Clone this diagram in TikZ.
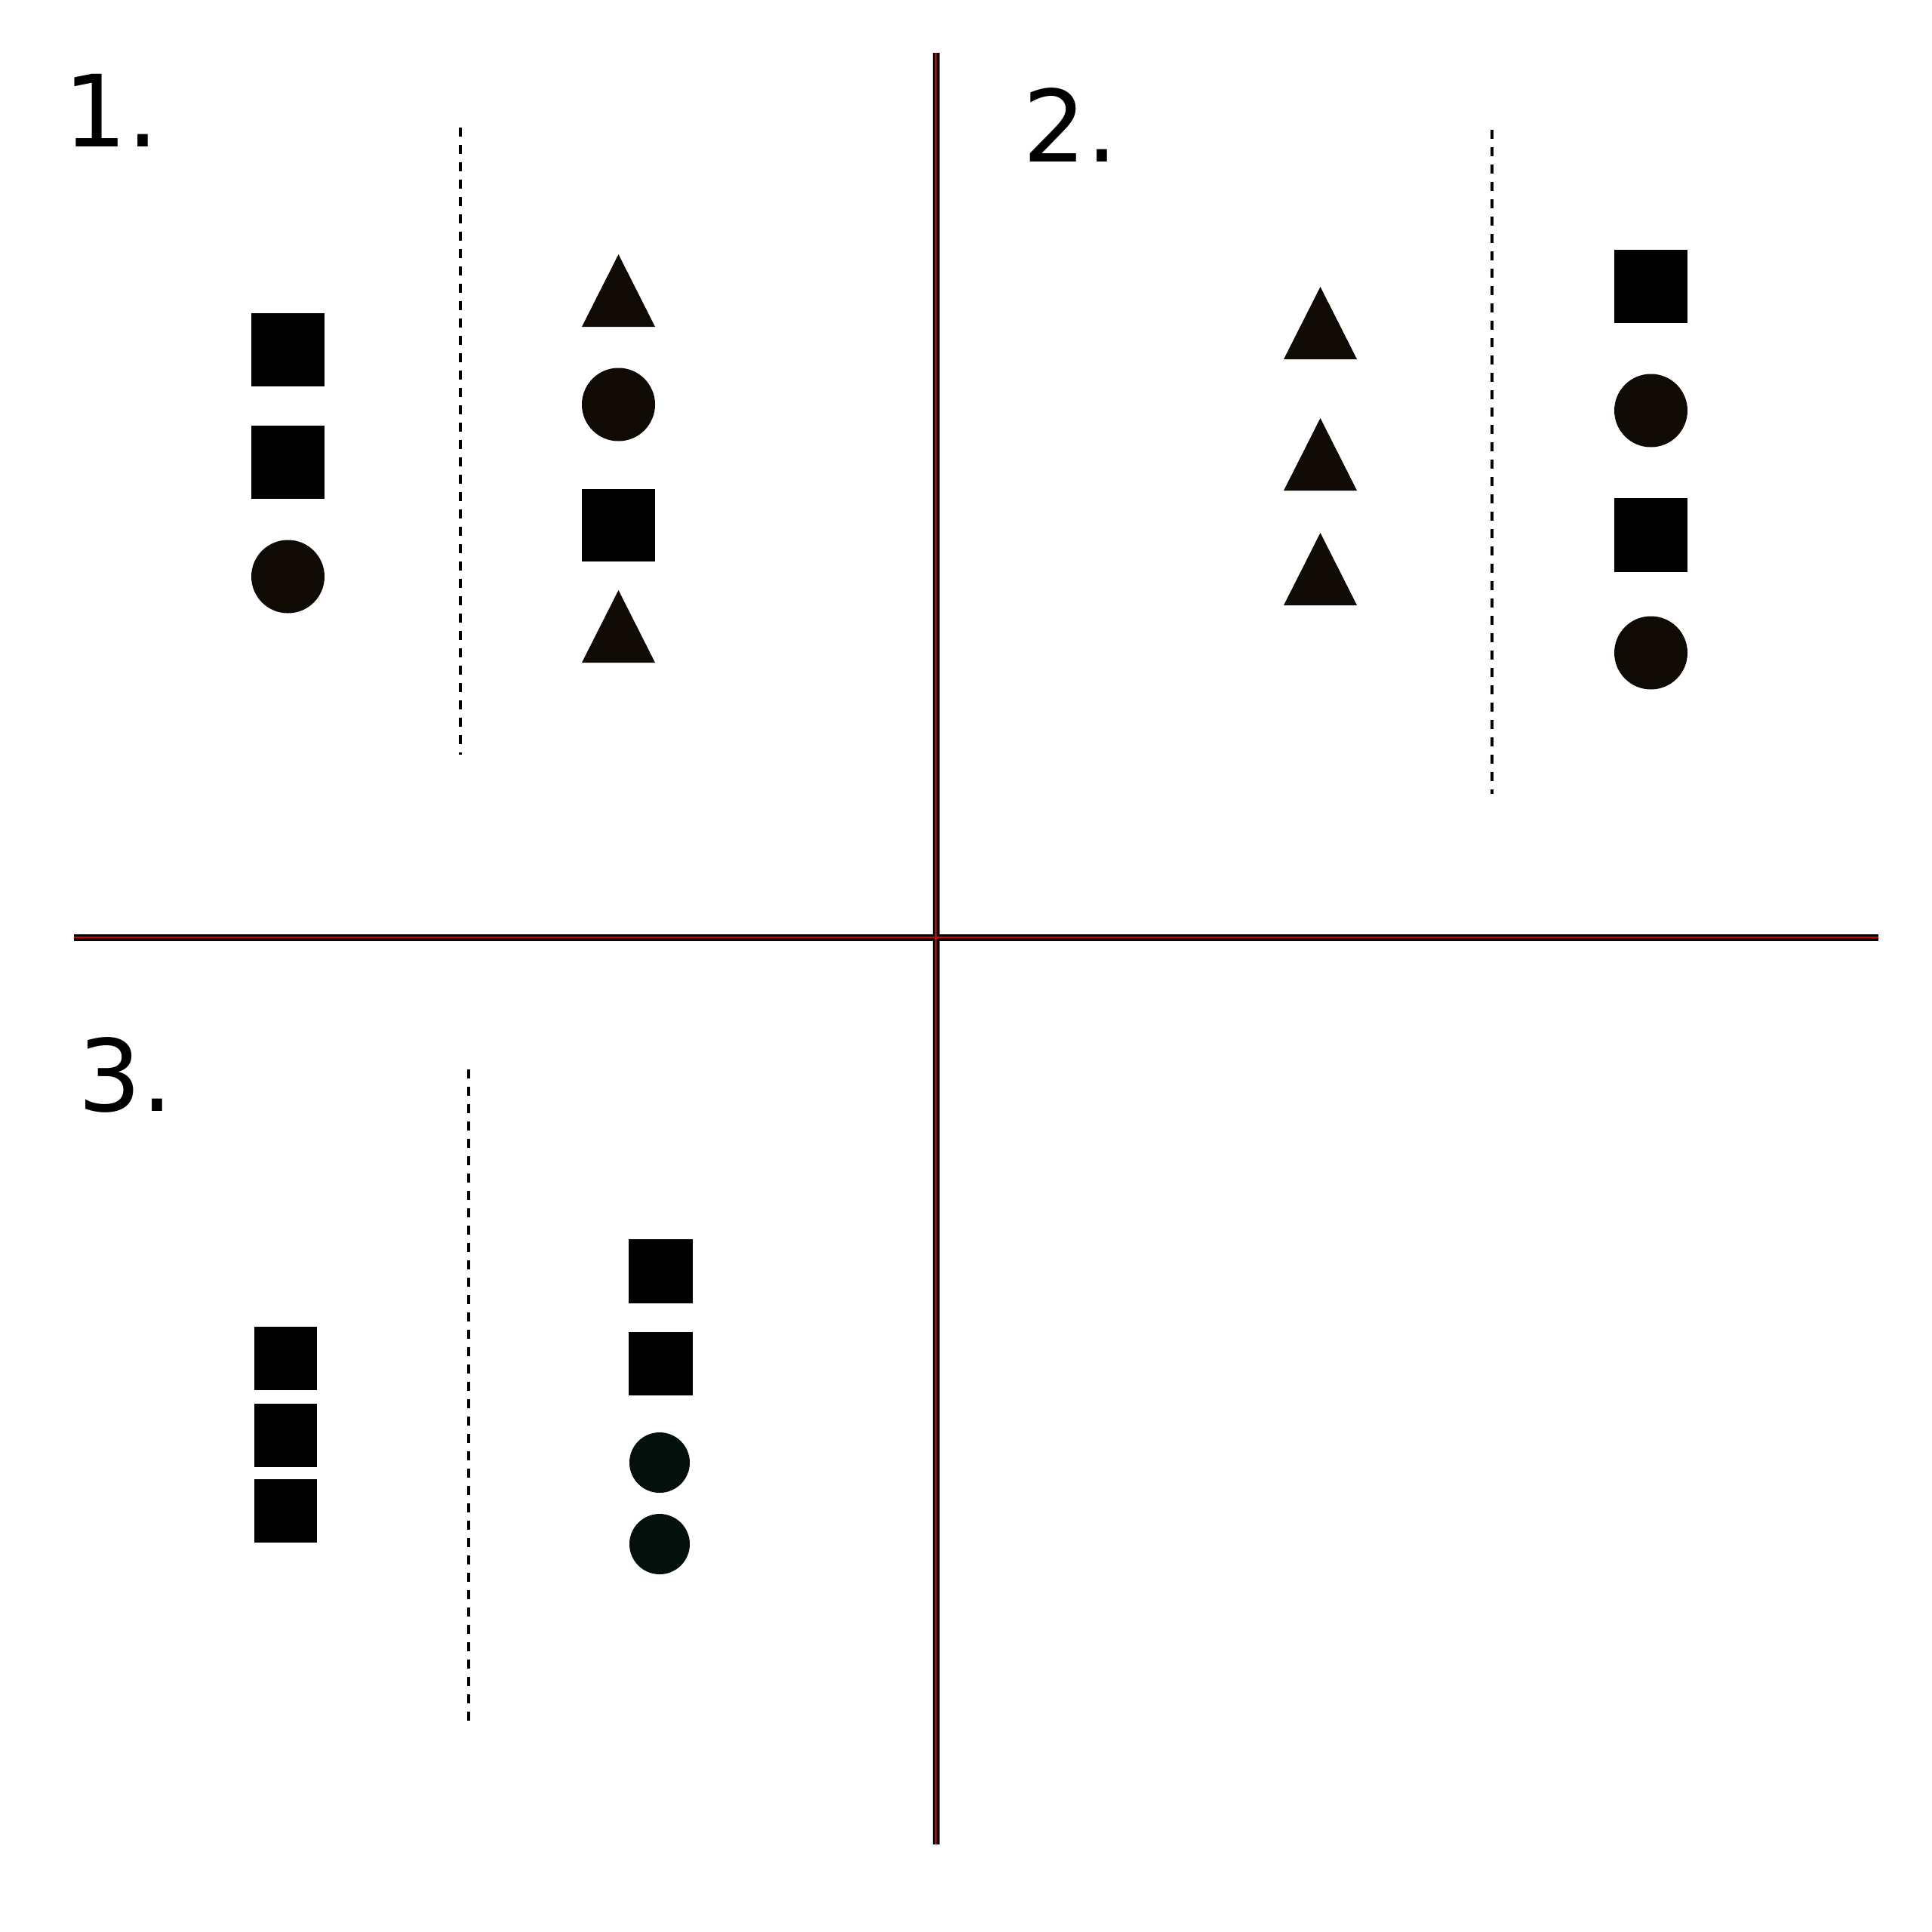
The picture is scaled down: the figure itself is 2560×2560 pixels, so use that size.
\documentclass[tikz,border=0pt]{standalone}
\usepackage{fontspec}
\setmainfont{DejaVu Sans}
\definecolor{shp}{HTML}{0F0A03}
\definecolor{shpg}{HTML}{03100C}
\tikzset{
  axisblack/.style={line width=2.25pt, black},
  axisred/.style={line width=0.4pt, red!85!black},
  sep/.style={line width=0.85pt, black, dash pattern=on 3pt off 2.75pt},
  lbl/.style={font=\fontsize{33}{33}\selectfont, anchor=base west, inner sep=0pt},
}
\begin{document}
\begin{tikzpicture}[x=0.25pt,y=-0.25pt]
\useasboundingbox (0,0) rectangle (2560,2560);
% axes
\draw[axisblack] (98,1242) -- (2489,1242);
\draw[axisblack] (1240,70) -- (1240,2444);
\draw[axisred] (98,1242) -- (2489,1242);
\draw[axisred] (1240,70) -- (1240,2444);
% labels
\node[lbl] (l1) at (84,194) {1.};
\node[lbl] (l2) at (1355,214) {2.};
\node[lbl] (l3) at (103,1472) {3.};
% separators
\draw[sep] (610,169) -- (610,1000);
\draw[sep] (1977,172) -- (1977,1052);
\draw[sep] (621,1417) -- (621,2280);
% panel 1 left
\fill[black] (333,415) rectangle (430,512);
\fill[black] (333,564) rectangle (430,661);
\fill[shp] (381.5,764) circle[radius=48.5];
% panel 1 right
\fill[shp] (771,433) -- (819.5,337) -- (868,433) -- cycle;
\fill[shp] (819.5,536) circle[radius=48.5];
\fill[black] (771,648) rectangle (868,744);
\fill[shp] (771,878) -- (819.5,782) -- (868,878) -- cycle;
% panel 2 left
\fill[shp] (1701,476) -- (1749.5,380) -- (1798,476) -- cycle;
\fill[shp] (1701,650) -- (1749.5,554) -- (1798,650) -- cycle;
\fill[shp] (1701,802) -- (1749.5,706) -- (1798,802) -- cycle;
% panel 2 right
\fill[black] (2139,331) rectangle (2236,428);
\fill[shp] (2187.5,544) circle[radius=48.5];
\fill[black] (2139,660) rectangle (2236,758);
\fill[shp] (2187.5,865) circle[radius=48.5];
% panel 3 left
\fill[black] (337,1758) rectangle (420,1842);
\fill[black] (337,1860) rectangle (420,1944);
\fill[black] (337,1960) rectangle (420,2044);
% panel 3 right
\fill[black] (833,1642) rectangle (918,1727);
\fill[black] (833,1765) rectangle (918,1849);
\fill[shpg] (874,1938) circle[radius=40];
\fill[shpg] (874,2046) circle[radius=40];
\end{tikzpicture}
\end{document}
